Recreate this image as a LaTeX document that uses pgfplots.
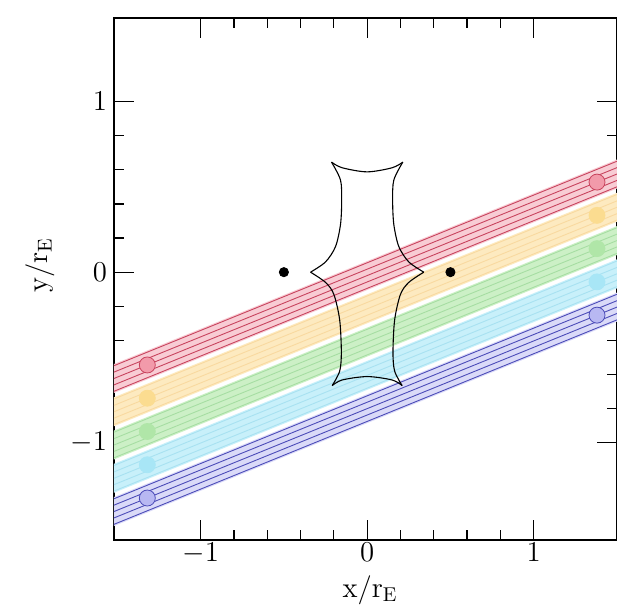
\documentclass[border=0pt]{standalone}
\usepackage{pgfplots}
\pgfplotsset{compat=1.18}

% band colours: pale fill, track lines, end markers
\definecolor{rfill}{HTML}{F8CCD4}\definecolor{rline}{HTML}{C8445E}\definecolor{rmark}{HTML}{F29AAA}
\definecolor{ofill}{HTML}{FDEAC0}\definecolor{oline}{HTML}{F2C070}\definecolor{omark}{HTML}{FBDC90}
\definecolor{gfill}{HTML}{CCF0C6}\definecolor{gline}{HTML}{78C878}\definecolor{gmark}{HTML}{B0E6A8}
\definecolor{cfill}{HTML}{C8F0FA}\definecolor{cline}{HTML}{78CCE4}\definecolor{cmark}{HTML}{A8E6F6}
\definecolor{bfill}{HTML}{DADAF8}\definecolor{bline}{HTML}{4C4CB8}\definecolor{bmark}{HTML}{B8B8F2}

\newcommand{\track}[3]{\addplot[#1, line width=0.45pt] coordinates {(-1.6,#2) (1.6,#3)};}
\newcommand{\strip}[5]{\addplot[fill=#1, draw=none] coordinates {(-1.6,#2) (1.6,#4) (1.6,#5) (-1.6,#3)} -- cycle;}

\begin{document}
\begin{tikzpicture}
\useasboundingbox (-57pt,-34pt) rectangle (251.5pt,270pt);
\begin{axis}[
  at={(0,0)}, anchor=south west,
  scale only axis, width=251.5pt, height=261pt,
  xmin=-1.52, xmax=1.5, ymin=-1.57, ymax=1.49,
  xtick={-1,0,1}, ytick={-1,0,1},
  minor tick num=4,
  tick pos=both, tick align=inside,
  major tick length=10pt, minor tick length=5pt,
  axis line style={line width=0.9pt},
  every tick/.style={black, line width=0.6pt},
  tick label style={font=\fontsize{14.5}{17}\selectfont},
  label style={font=\fontsize{14.5}{17}\selectfont},
  xticklabel style={yshift=2pt},
  xlabel={x/r$_{\mathrm{E}}$},
  ylabel={y/r$_{\mathrm{E}}$},
  xlabel style={at={(axis description cs:0.509,-0.096)}, anchor=center},
  ylabel style={at={(axis description cs:-0.147,0.527)}, anchor=center},
  clip=true,
]
% pale strips under each bundle of tracks
\strip{rfill}{-0.74}{-0.57}{0.53}{0.70}
\strip{ofill}{-0.935}{-0.765}{0.335}{0.505}
\strip{gfill}{-1.13}{-0.96}{0.14}{0.31}
\strip{cfill}{-1.325}{-1.155}{-0.055}{0.115}
\strip{bfill}{-1.52}{-1.35}{-0.25}{-0.08}

% source trajectories, five per band
\track{rline}{-0.73}{0.54}
\track{rline}{-0.6925}{0.5775}
\track{rline}{-0.655}{0.615}
\track{rline}{-0.6175}{0.6525}
\track{rline}{-0.58}{0.69}

\track{oline, opacity=0.4}{-0.925}{0.345}
\track{oline, opacity=0.4}{-0.8875}{0.3825}
\track{oline, opacity=0.4}{-0.85}{0.42}
\track{oline, opacity=0.4}{-0.8125}{0.4575}
\track{oline, opacity=0.4}{-0.775}{0.495}

\track{gline, opacity=0.45}{-1.12}{0.15}
\track{gline, opacity=0.45}{-1.0825}{0.1875}
\track{gline, opacity=0.45}{-1.045}{0.225}
\track{gline, opacity=0.45}{-1.0075}{0.2625}
\track{gline, opacity=0.45}{-0.97}{0.30}

\track{cline, opacity=0.4}{-1.315}{-0.045}
\track{cline, opacity=0.4}{-1.2775}{-0.0075}
\track{cline, opacity=0.4}{-1.24}{0.03}
\track{cline, opacity=0.4}{-1.2025}{0.0675}
\track{cline, opacity=0.4}{-1.165}{0.105}

\track{bline}{-1.51}{-0.24}
\track{bline}{-1.4725}{-0.2025}
\track{bline}{-1.435}{-0.165}
\track{bline}{-1.3975}{-0.1275}
\track{bline}{-1.36}{-0.09}

% start and end positions of each track
\addplot[only marks, mark=*, mark size=4pt, color=rline, mark options={fill=rmark, draw=rline, line width=0.4pt}] coordinates {(-1.32,-0.544) (1.38,0.528)};
\addplot[only marks, mark=*, mark size=4pt, color=omark, mark options={fill=omark, draw=omark}] coordinates {(-1.32,-0.739) (1.38,0.333)};
\addplot[only marks, mark=*, mark size=4pt, color=gmark, mark options={fill=gmark, draw=gmark}] coordinates {(-1.32,-0.934) (1.38,0.138)};
\addplot[only marks, mark=*, mark size=4pt, color=cmark, mark options={fill=cmark, draw=cmark}] coordinates {(-1.32,-1.129) (1.38,-0.057)};
\addplot[only marks, mark=*, mark size=4pt, color=bline, mark options={fill=bmark, draw=bline, line width=0.4pt}] coordinates {(-1.32,-1.324) (1.38,-0.252)};

% resonant caustic, one fold at a time so the cusps stay sharp
\addplot[black, line width=0.55pt, smooth] coordinates {(-0.214,0.645) (-0.15,0.612) (0,0.588) (0.15,0.612) (0.214,0.645)};
\addplot[black, line width=0.55pt, smooth] coordinates {(0.214,0.645) (0.16,0.54) (0.153,0.42) (0.16,0.28) (0.19,0.15) (0.25,0.06) (0.34,0)};
\addplot[black, line width=0.55pt, smooth] coordinates {(0.34,0) (0.25,-0.06) (0.2,-0.13) (0.165,-0.28) (0.155,-0.47) (0.165,-0.58) (0.21,-0.665)};
\addplot[black, line width=0.55pt, smooth] coordinates {(0.21,-0.665) (0.15,-0.632) (0,-0.612) (-0.15,-0.632) (-0.21,-0.665)};
\addplot[black, line width=0.55pt, smooth] coordinates {(-0.21,-0.665) (-0.165,-0.58) (-0.155,-0.47) (-0.165,-0.28) (-0.2,-0.13) (-0.25,-0.06) (-0.34,0)};
\addplot[black, line width=0.55pt, smooth] coordinates {(-0.34,0) (-0.25,0.06) (-0.19,0.15) (-0.16,0.28) (-0.153,0.42) (-0.16,0.54) (-0.214,0.645)};

% lens positions
\addplot[only marks, mark=*, mark size=2.3pt, black] coordinates {(-0.5,0) (0.5,0)};
\end{axis}
\end{tikzpicture}
\end{document}
